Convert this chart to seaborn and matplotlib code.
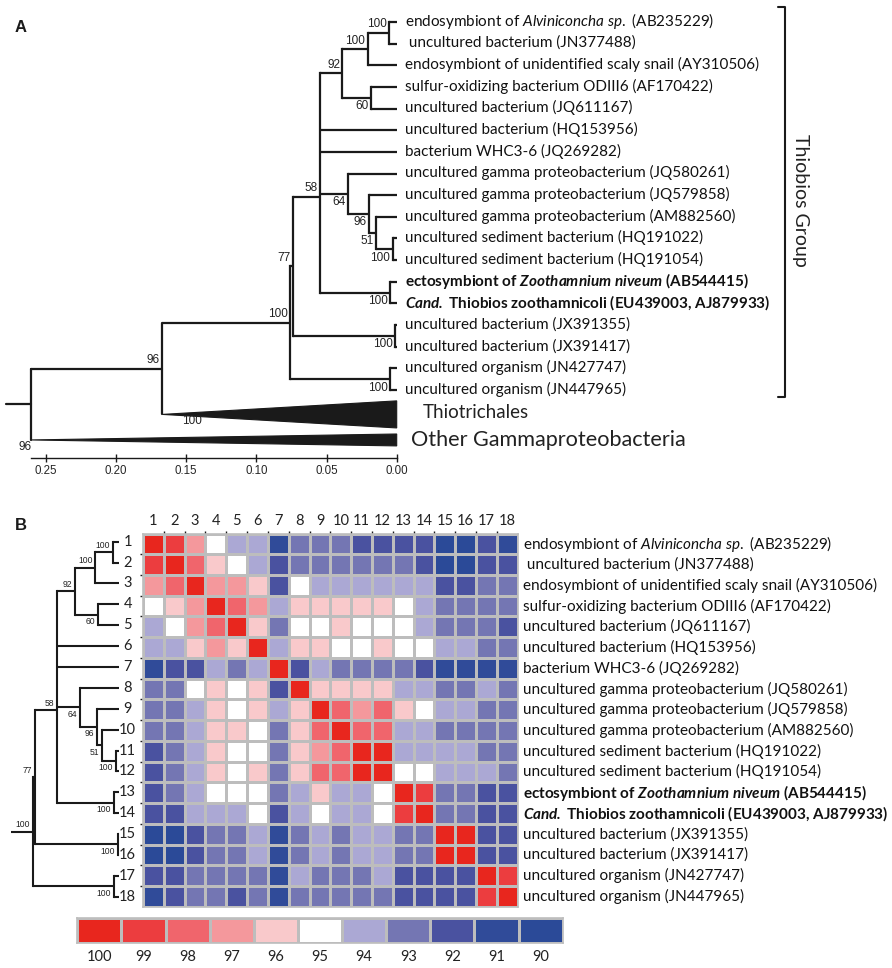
import numpy as np
import matplotlib
matplotlib.use("Agg")
import matplotlib.pyplot as plt
import seaborn as sns
from matplotlib.colors import ListedColormap

taxa = [
    "endosymbiont of $\\mathit{Alviniconcha\\ sp.}$ (AB235229)",
    " uncultured bacterium (JN377488)",
    "endosymbiont of unidentified scaly snail (AY310506)",
    "sulfur-oxidizing bacterium ODIII6 (AF170422)",
    "uncultured bacterium (JQ611167)",
    "uncultured bacterium (HQ153956)",
    "bacterium WHC3-6 (JQ269282)",
    "uncultured gamma proteobacterium (JQ580261)",
    "uncultured gamma proteobacterium (JQ579858)",
    "uncultured gamma proteobacterium (AM882560)",
    "uncultured sediment bacterium (HQ191022)",
    "uncultured sediment bacterium (HQ191054)",
    "ectosymbiont of $\\mathbfit{Zoothamnium\\ niveum}$ (AB544415)",
    "$\\mathbfit{Cand.}$ Thiobios zoothamnicoli (EU439003, AJ879933)",
    "uncultured bacterium (JX391355)",
    "uncultured bacterium (JX391417)",
    "uncultured organism (JN427747)",
    "uncultured organism (JN447965)",
]
bold_taxa = [12, 13]
numbers = [str(i + 1) for i in range(18)]

# sequence identity in %
identity = [
    [100, 99, 97, 95, 94, 94, 91, 93, 93, 93, 92, 92, 92, 92, 90, 90, 92, 91],
    [99, 100, 98, 96, 95, 94, 92, 93, 93, 93, 93, 93, 93, 92, 90, 90, 92, 92],
    [97, 98, 100, 97, 97, 96, 92, 95, 94, 94, 94, 94, 94, 94, 92, 92, 93, 93],
    [95, 96, 97, 100, 98, 97, 94, 96, 96, 96, 96, 96, 95, 94, 93, 93, 93, 93],
    [94, 95, 97, 98, 100, 96, 93, 95, 95, 96, 95, 95, 95, 94, 93, 93, 93, 92],
    [94, 94, 96, 97, 96, 100, 94, 96, 96, 95, 95, 96, 95, 95, 94, 94, 93, 93],
    [91, 92, 92, 94, 93, 94, 100, 92, 94, 93, 93, 93, 93, 92, 91, 91, 91, 91],
    [93, 93, 95, 96, 95, 96, 92, 100, 96, 96, 96, 96, 94, 94, 93, 93, 94, 93],
    [93, 93, 94, 96, 95, 96, 94, 96, 100, 98, 97, 98, 96, 95, 94, 94, 93, 93],
    [93, 93, 94, 96, 96, 95, 93, 96, 98, 100, 98, 98, 94, 94, 93, 93, 93, 93],
    [92, 93, 94, 96, 95, 95, 93, 96, 97, 98, 100, 100, 94, 94, 94, 94, 93, 93],
    [92, 93, 94, 96, 95, 96, 93, 96, 98, 98, 100, 100, 95, 95, 94, 94, 94, 93],
    [92, 93, 94, 95, 95, 95, 93, 94, 96, 94, 94, 95, 100, 99, 93, 93, 92, 92],
    [92, 92, 94, 94, 94, 95, 92, 94, 95, 94, 94, 95, 99, 100, 93, 93, 92, 92],
    [90, 90, 92, 93, 93, 94, 91, 93, 94, 93, 94, 94, 93, 93, 100, 100, 92, 92],
    [90, 90, 92, 93, 93, 94, 91, 93, 94, 93, 94, 94, 93, 93, 100, 100, 92, 92],
    [92, 92, 93, 93, 93, 93, 91, 94, 93, 93, 93, 94, 92, 92, 92, 92, 100, 99],
    [91, 92, 93, 93, 92, 93, 91, 93, 93, 93, 93, 93, 92, 92, 92, 92, 99, 100],
]

levels = [100, 99, 98, 97, 96, 95, 94, 93, 92, 91, 90]
level_colors = ["#E8261E", "#EC3D3F", "#F0656C", "#F4989C", "#F9C9CB", "#FFFFFF",
                "#ABA8D4", "#7476B3", "#4A52A0", "#304B99", "#2B4A98"]
grid_color = "#BDBDBD"

distance_ticks = [0.25, 0.20, 0.15, 0.10, 0.05, 0.00]


def node(depth, support, side, *children):
    return {"depth": depth, "support": support, "side": side, "children": children}


# leaves are row numbers, depth is the distance from the tips
clade_1_3 = node(0.0207, "100", "above", node(0.0053, "100", "above", 0, 1), 2)
clade_1_5 = node(0.0387, "92", "above", clade_1_3, node(0.0183, "60", "below", 3, 4))
clade_11_12 = node(0.0029, "100", "below", 10, 11)
clade_10_12 = node(0.015, "51", "below", 9, clade_11_12)
clade_9_12 = node(0.0197, "96", "below", 8, clade_10_12)
clade_8_12 = node(0.0347, "64", "below", 7, clade_9_12)
clade_13_14 = node(0.0048, "100", "below", 12, 13)
clade_1_14 = node(0.0546, "58", "above", clade_1_5, 5, 6, clade_8_12, clade_13_14)
clade_1_16 = node(0.0737, "77", "above", clade_1_14, node(0.001, "100", "below", 14, 15))
thiobios = node(0.076, "100", "above", clade_1_16, node(0.0048, "100", "below", 16, 17))

sns.set_theme(style="white")
plt.rcParams["font.family"] = ["Lato", "DejaVu Sans"]
plt.rcParams["mathtext.fontset"] = "custom"
plt.rcParams["mathtext.rm"] = "Lato"
plt.rcParams["mathtext.it"] = "Lato:italic"
plt.rcParams["mathtext.bf"] = "Lato:bold"
plt.rcParams["mathtext.bfit"] = "Lato:italic:bold"

W, H = 892, 968
fig = plt.figure(figsize=(W / 100, H / 100), dpi=100, facecolor="white")


def px_axes(left, top, right, bottom):
    ax = fig.add_axes([left / W, 1 - bottom / H, (right - left) / W, (bottom - top) / H])
    ax.patch.set_alpha(0)
    return ax


def px_text(x, y, s, **kw):
    fig.text(x / W, 1 - y / H, s, va="center", **kw)


def draw_tree(ax, item, stem_to, lw, size, gap, offset):
    # returns the row of a node, the lines are drawn on the way back up
    if isinstance(item, int):
        ax.plot([stem_to, 0], [item, item], color="k", lw=lw,
                clip_on=False, solid_capstyle="butt")
        return item
    rows = [draw_tree(ax, c, item["depth"], lw, size, gap, offset) for c in item["children"]]
    row = (rows[0] + rows[-1]) / 2
    # the 58 node was moved by hand next to its 64 child in the source figure
    if item is clade_1_14:
        row = rows[3] + 0.13
    ax.plot([item["depth"]] * 2, [rows[0], rows[-1]], color="k", lw=lw,
            clip_on=False, solid_capstyle="projecting")
    ax.plot([stem_to, item["depth"]], [row, row], color="k", lw=lw,
            clip_on=False, solid_capstyle="butt")
    sign = 1 if item["side"] == "above" else -1
    ax.annotate(item["support"], (item["depth"], row), xytext=(-gap, sign * offset),
                textcoords="offset points", ha="right", va="center", fontsize=size,
                family="Liberation Sans", color="#222222", annotation_clip=False)
    return row


# panel A
ax_a = px_axes(30.7, 0, 396.7, 458)
ax_a.set_xlim(0.2607, 0)
ax_a.set_ylim((458 - 22) / 21.65, -22 / 21.65)

tree_lw = 1.6
row_thiobios = draw_tree(ax_a, thiobios, 0.167, tree_lw, 8.5, 1.6, 6)

# collapsed clades, apex depth and the rows that the open end spans
thiotrichales_depth, thiotrichales_rows = 0.167, (17.5, 18.75)
other_depth, other_rows = 0.2607, (19.03, 19.58)
apex_t = sum(thiotrichales_rows) / 2
apex_o = sum(other_rows) / 2
ax_a.fill([thiotrichales_depth, 0, 0], [apex_t, thiotrichales_rows[0], thiotrichales_rows[1]],
          color="k", lw=0.8, clip_on=False)
ax_a.fill([other_depth, 0, 0], [apex_o, other_rows[0], other_rows[1]],
          color="k", lw=0.8, clip_on=False)

row_96 = (row_thiobios + apex_t) / 2
row_root = (row_96 + apex_o) / 2
ax_a.plot([thiotrichales_depth] * 2, [row_thiobios, apex_t], color="k", lw=tree_lw, clip_on=False)
ax_a.plot([0.2607, 0.167], [row_96, row_96], color="k", lw=tree_lw, clip_on=False)
ax_a.plot([0.2607, 0.2607], [row_96, apex_o], color="k", lw=tree_lw, clip_on=False)
ax_a.plot([0.2784, 0.2607], [row_root, row_root], color="k", lw=tree_lw, clip_on=False)

ax_a.annotate("96", (0.167, row_96), xytext=(-1.6, 6.5), textcoords="offset points", ha="right",
              va="center", fontsize=8.5, family="Liberation Sans", color="#222222")
ax_a.annotate("100", (0.167, apex_t), xytext=(14, -5), textcoords="offset points", ha="left",
              va="center", fontsize=8.5, family="Liberation Sans", color="#222222")
ax_a.annotate("96", (0.2607, apex_o), xytext=(-9, -5), textcoords="offset points", ha="left",
              va="center", fontsize=8.5, family="Liberation Sans", color="#222222",
              annotation_clip=False)

for i, label in enumerate(taxa):
    ax_a.annotate(label, (0, i), xytext=(6, 0.5), textcoords="offset points", va="center",
                  fontsize=11, fontweight="bold" if i in bold_taxa else "normal",
                  color="#111111", annotation_clip=False)

ax_a.set_xticks(distance_ticks)
ax_a.set_xticklabels([f"{t:.2f}" for t in distance_ticks], family="Liberation Sans", fontsize=8.3)
ax_a.set_yticks([])
ax_a.tick_params(axis="x", bottom=True, direction="inout", length=6, width=1, pad=2, color="k")
sns.despine(ax=ax_a, left=True)
ax_a.spines["bottom"].set_color("k")
ax_a.spines["bottom"].set_linewidth(1)

px_text(423, 413, "Thiotrichales", fontsize=13.5, color="#222222")
px_text(411, 440, "Other Gammaproteobacteria", fontsize=15.6, color="#222222")
px_text(800, 200, "Thiobios Group", fontsize=14, rotation=270, ha="center", color="#222222")
fig.add_artist(plt.Line2D([778 / W, 784.7 / W, 784.7 / W, 778 / W],
                          [1 - 6.5 / H, 1 - 6.5 / H, 1 - 397 / H, 1 - 397 / H],
                          color="k", lw=1.5))
px_text(15, 28, "A", fontsize=12, fontweight="bold", family="Liberation Sans", color="k")
px_text(15, 525, "B", fontsize=12, fontweight="bold", family="Liberation Sans", color="k")

# panel B, same tree at a smaller scale
ax_t = px_axes(32.7, 541.7, 119, 896.7)
ax_t.set_xlim(0.076, 0)
ax_t.set_ylim(17, 0)
ax_t.axis("off")
draw_tree(ax_t, thiobios, 0.0952, 1.5, 6.2, 2, 5)
for i, label in enumerate(numbers):
    ax_t.annotate(label, (0, i), xytext=(6.2, 0), textcoords="offset points", ha="center",
                  va="center", fontsize=10.5, color="#222222", annotation_clip=False)

cmap = ListedColormap(level_colors[::-1])

ax_h = px_axes(143, 533.5, 517.7, 906.7)
sns.heatmap(np.array(identity), ax=ax_h, cmap=cmap, vmin=89.5, vmax=100.5, cbar=False,
            linewidths=1, linecolor=grid_color, xticklabels=numbers, yticklabels=False)
ax_h.xaxis.tick_top()
ax_h.tick_params(axis="x", which="major", length=0, labelrotation=0, labelsize=10.5, pad=4,
                 labelcolor="#222222")
ax_h.set_xticks(np.arange(1, 18), minor=True)
ax_h.set_yticks(np.arange(1, 18), minor=True)
ax_h.tick_params(axis="x", which="minor", top=True, bottom=False, length=2.5, width=1, color="k")
ax_h.tick_params(axis="y", which="minor", left=True, length=2.5, width=1, color="k")
for spine in ax_h.spines.values():
    spine.set_visible(True)
    spine.set_color(grid_color)
    spine.set_linewidth(1.2)
for i, label in enumerate(taxa):
    ax_h.annotate(label, (18, i + 0.5), xytext=(4, 0), textcoords="offset points", va="center",
                  fontsize=11, fontweight="bold" if i in bold_taxa else "normal",
                  color="#111111", annotation_clip=False)

ax_c = px_axes(77.3, 918, 562.7, 943)
sns.heatmap(np.array([levels]), ax=ax_c, cmap=cmap, vmin=89.5, vmax=100.5, cbar=False,
            linewidths=1, linecolor=grid_color, xticklabels=levels, yticklabels=False)
ax_c.tick_params(axis="x", length=0, labelsize=10.5, pad=5, labelrotation=0, labelcolor="#222222")
for spine in ax_c.spines.values():
    spine.set_visible(True)
    spine.set_color(grid_color)
    spine.set_linewidth(1.2)

fig.savefig("out.png", dpi=100)
